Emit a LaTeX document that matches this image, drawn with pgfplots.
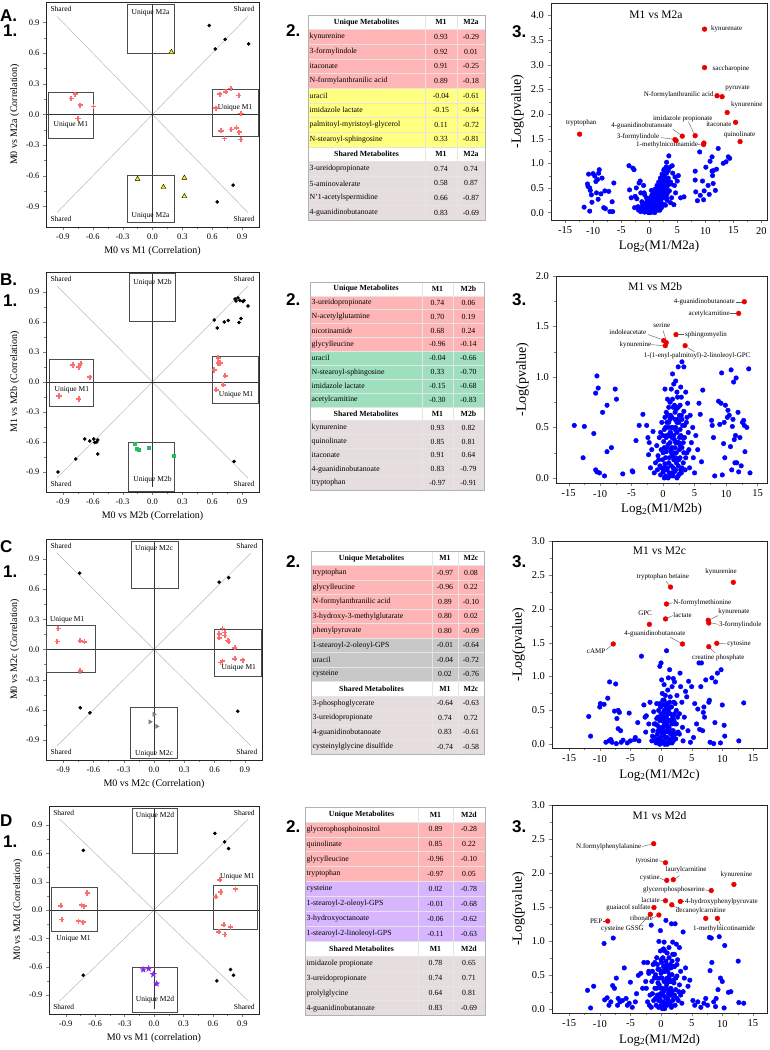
\documentclass[border=0pt]{standalone}
\usepackage{fontspec}
\setmainfont{Liberation Serif}
\newfontfamily\arialf{Liberation Sans}
\usepackage{pgfplots}
\pgfplotsset{compat=1.18}
\definecolor{pk}{RGB}{255,181,181}
\definecolor{yl}{RGB}{255,255,128}
\definecolor{gn}{RGB}{158,223,190}
\definecolor{gy}{RGB}{200,200,200}
\definecolor{pu}{RGB}{216,182,255}
\definecolor{sh}{RGB}{230,222,222}
\definecolor{pinkc}{RGB}{255,110,110}
\definecolor{greenc}{RGB}{40,185,100}
\definecolor{purplec}{RGB}{140,40,230}
\definecolor{bluec}{RGB}{0,0,255}
\definecolor{redc}{RGB}{235,0,0}
\pgfdeclareplotmark{fstar}{%
 \pgfpathmoveto{\pgfpointpolar{90}{\pgfplotmarksize}}%
 \pgfpathlineto{\pgfpointpolar{126}{0.42\pgfplotmarksize}}%
 \pgfpathlineto{\pgfpointpolar{162}{\pgfplotmarksize}}%
 \pgfpathlineto{\pgfpointpolar{198}{0.42\pgfplotmarksize}}%
 \pgfpathlineto{\pgfpointpolar{234}{\pgfplotmarksize}}%
 \pgfpathlineto{\pgfpointpolar{270}{0.42\pgfplotmarksize}}%
 \pgfpathlineto{\pgfpointpolar{306}{\pgfplotmarksize}}%
 \pgfpathlineto{\pgfpointpolar{342}{0.42\pgfplotmarksize}}%
 \pgfpathlineto{\pgfpointpolar{18}{\pgfplotmarksize}}%
 \pgfpathlineto{\pgfpointpolar{54}{0.42\pgfplotmarksize}}%
 \pgfpathclose\pgfusepathqfill}
\newcommand\trow[5]{%
 \fill[#2] (0,{-(#1)*\trh}) rectangle (\trw,{-(#1+1)*\trh});
 \node[anchor=west] at (1.5,{-(#1+0.5)*\trh}) {#3};
 \node at ({(\tca+\tcb)/2},{-(#1+0.5)*\trh}) {#4};
 \node at ({(\tcb+\trw)/2},{-(#1+0.5)*\trh}) {#5};}
\newcommand\thd[3]{%
 \node at ({\tca/2},{-(#1+0.5)*\trh}) {\bfseries #2};
 \node at ({(\tca+\tcb)/2},{-(#1+0.5)*\trh}) {\bfseries M1};
 \node at ({(\tcb+\trw)/2},{-(#1+0.5)*\trh}) {\bfseries #3};}
\newcommand\tgrid[2]{%
 \foreach \k in {1,...,#2} {\draw[white!80!gray,line width=0.5pt] (0,{-\k*\trh}) -- (\trw,{-\k*\trh});}
 \draw[white!80!gray,line width=0.5pt] (\tca,0) -- (\tca,{-#1*\trh});
 \draw[white!80!gray,line width=0.5pt] (\tcb,0) -- (\tcb,{-#1*\trh});
 \draw[gray!60,line width=0.8pt] (0,0) rectangle (\trw,{-#1*\trh});}
\tikzset{
 ann/.style={font=\fontsize{7}{8}\selectfont, inner sep=0.5pt},
 lead/.style={gray!70!black, line width=0.4pt},
 lab/.style={font=\fontsize{7.5}{8}\selectfont, inner sep=0pt},
 bx/.style={gray!60!black, line width=0.6pt},
}
\pgfplotsset{
 scat/.style={scale only axis, anchor=south west, xmin=-1.07,xmax=1.07,ymin=-1.1,ymax=1.1,
  xtick={-0.9,-0.6,-0.3,0,0.3,0.6,0.9}, ytick={-0.9,-0.6,-0.3,0,0.3,0.6,0.9},
  minor tick num=1, tick align=outside, tick pos=left, clip=false,
  axis line style={line width=0.6pt,black!85}, major tick length=3pt, minor tick length=1.6pt,
  ticklabel style={font=\fontsize{8.5}{9}\selectfont},
  xticklabel style={/pgf/number format/.cd,fixed,fixed zerofill,precision=1},
  yticklabel style={/pgf/number format/.cd,fixed,fixed zerofill,precision=1},
  /pgf/number format/assume math mode=true,
  label style={font=\fontsize{10}{11}\selectfont}},
 volc/.style={scale only axis, anchor=south west, tick align=outside, tick pos=left, clip=false,
  axis line style={line width=0.6pt,black!85}, major tick length=3.5pt, minor tick length=2pt,
  minor tick num=1,
  ticklabel style={font=\fontsize{10.5}{11}\selectfont},
  yticklabel style={/pgf/number format/.cd,fixed,fixed zerofill,precision=1},
  xticklabel style={/pgf/number format/.cd,fixed,precision=0},
  /pgf/number format/assume math mode=true,
  xlabel style={font=\fontsize{13}{14}\selectfont},
  ylabel style={font=\fontsize{14}{15}\selectfont},
  ylabel={-Log(pvalue)}, xtick={-15,-10,-5,0,5,10,15}},
 blk/.style={only marks, mark=*, mark size=1.6pt, black},
 pnk/.style={only marks, mark=+, mark size=2.6pt, pinkc, line width=1.7pt},
 bl/.style={only marks, mark=*, mark size=2.3pt, bluec},
 rd/.style={only marks, mark=*, mark size=2.4pt, redc},
}
\newcommand\scatdeco{%
 \draw[gray!55, line width=0.5pt] (axis cs:-0.96,0.96) -- (axis cs:0.96,-0.96);
 \draw[gray!55, line width=0.5pt] (axis cs:-0.96,-0.96) -- (axis cs:0.96,0.96);
 \draw[black!80, line width=0.6pt] (axis cs:-1.07,0) -- (axis cs:1.07,0);
 \draw[black!80, line width=0.6pt] (axis cs:0,-1.05) -- (axis cs:0,1.08);
 \node[lab] at (axis cs:-0.92,1.03) {Shared};
 \node[lab] at (axis cs:0.92,1.03) {Shared};
 \node[lab] at (axis cs:-0.92,-1.02) {Shared};
 \node[lab] at (axis cs:0.92,-1.02) {Shared};}
\begin{document}
\begin{tikzpicture}[x=1pt,y=1pt]
\useasboundingbox (0,0) rectangle (769,1050);
% panel labels
\begin{scope}[every node/.style={font=\arialf\bfseries\fontsize{17}{17}\selectfont, inner sep=0pt, anchor=west}]
\node at (0,1034) {A.}; \node at (3,1019) {1.};
\node at (0,770) {B.}; \node at (3,749) {1.};
\node at (0,503.5) {C}; \node at (3,478) {1.};
\node at (0,229) {D}; \node at (3,208) {1.};
\node at (286,1019) {2.}; \node at (286,750) {2.}; \node at (286,488) {2.}; \node at (286,223) {2.};
\node at (512,1018) {3.}; \node at (512,750) {3.}; \node at (512,488) {3.}; \node at (512,223) {3.};
\end{scope}

% ================= Scatter A
\begin{axis}[scat, at={(46pt,823pt)}, width=213pt, height=225pt,
  xlabel={M0 vs M1 (Correlation)}, ylabel={M0 vs M2a (Correlation)}]
\scatdeco
\draw[bx] (axis cs:-0.25,0.6) rectangle (axis cs:0.22,1.08);
\draw[bx] (axis cs:-0.25,-0.59) rectangle (axis cs:0.22,-1.05);
\draw[bx] (axis cs:-1.05,0.22) rectangle (axis cs:-0.59,-0.23);
\draw[bx] (axis cs:0.6,0.25) rectangle (axis cs:1.06,-0.21);
\node[lab] at (axis cs:-0.02,0.99) {Unique M2a};
\node[lab] at (axis cs:-0.02,-0.99) {Unique M2a};
\node[lab] at (axis cs:-0.82,-0.10) {Unique M1};
\node[lab] at (axis cs:0.83,0.07) {Unique M1};
\addplot[blk] coordinates {(0.57,0.87)(0.73,0.735)(0.63,0.64)(0.966,0.69)(0.81,-0.69)(0.65,-0.855)};
\addplot[only marks, mark=triangle*, mark size=2.8pt, mark options={fill=yellow, draw=black, line width=0.4pt}] coordinates {(0.19,0.61)(-0.15,-0.63)(0.11,-0.71)(0.32,-0.62)(0.32,-0.80)};
\addplot[pnk] coordinates {(-0.776,0.197)(-0.817,0.155)(-0.725,0.09)(-0.593,0.077)(-0.749,-0.039)(0.786,0.255)(0.675,0.197)(0.735,0.223)(0.868,0.187)(0.637,0.061)(0.89,0.01)(0.688,-0.16)(0.79,-0.148)(0.844,-0.129)(0.871,-0.174)(0.722,-0.235)(0.888,-0.245)};
\end{axis}

% ================= Scatter B
\begin{axis}[scat, at={(46pt,558pt)}, width=213pt, height=220pt,
  xlabel={M0 vs M2b (Correlation)}, ylabel={M1 vs M2b (Correlation)}]
\scatdeco
\draw[bx] (axis cs:-0.23,0.61) rectangle (axis cs:0.23,1.09);
\draw[bx] (axis cs:-0.24,-0.605) rectangle (axis cs:0.22,-1.09);
\draw[bx] (axis cs:-1.04,0.23) rectangle (axis cs:-0.59,-0.245);
\draw[bx] (axis cs:0.6,0.26) rectangle (axis cs:1.06,-0.21);
\node[lab] at (axis cs:0,0.99) {Unique M2b};
\node[lab] at (axis cs:0,-0.98) {Unique M2b};
\node[lab] at (axis cs:-0.81,-0.077) {Unique M1};
\node[lab] at (axis cs:0.84,-0.13) {Unique M1};
\addplot[blk] coordinates {(0.62,0.62)(0.65,0.54)(0.72,0.60)(0.76,0.615)(0.87,0.595)(0.89,0.635)(0.96,0.76)(0.83,0.83)(0.84,0.81)(0.86,0.84)(0.88,0.815)(0.91,0.805)(0.92,0.815)(-0.95,-0.90)(-0.77,-0.77)(-0.68,-0.57)(-0.63,-0.59)(-0.59,-0.57)(-0.58,-0.605)(-0.56,-0.60)(-0.55,-0.58)(-0.55,-0.72)(0.82,-0.795)};
\addplot[only marks, mark=square*, mark size=1.6pt, greenc] coordinates {(-0.18,-0.62)(-0.16,-0.67)(-0.14,-0.68)(-0.04,-0.66)(0.21,-0.735)};
\addplot[pnk] coordinates {(-0.80,0.17)(-0.74,0.15)(-0.72,0.185)(-0.63,0.047)(-0.94,-0.14)(-0.74,-0.17)(0.66,0.24)(0.66,0.19)(0.68,0.19)(0.62,0.12)(0.73,0.063)(0.71,-0.027)(0.64,-0.077)};
\end{axis}

% ================= Scatter C
\begin{axis}[scat, at={(46pt,290pt)}, width=216pt, height=221pt,
  xlabel={M0 vs M2c (Correlation)}, ylabel={M0 vs M2c (Correlation)}]
\scatdeco
\draw[bx] (axis cs:-0.22,0.61) rectangle (axis cs:0.24,1.08);
\draw[bx] (axis cs:-0.23,-0.58) rectangle (axis cs:0.23,-1.08);
\draw[bx] (axis cs:-1.07,0.24) rectangle (axis cs:-0.585,-0.225);
\draw[bx] (axis cs:0.595,0.20) rectangle (axis cs:1.06,-0.265);
\node[lab] at (axis cs:0,1.0) {Unique M2c};
\node[lab] at (axis cs:0,-1.04) {Unique M2c};
\node[lab] at (axis cs:-0.86,0.30) {Unique M1};
\node[lab] at (axis cs:0.84,-0.185) {Unique M1};
\addplot[blk] coordinates {(-0.736,0.76)(0.645,0.67)(0.74,0.715)(-0.73,-0.58)(-0.635,-0.63)(0.83,-0.615)};
\addplot[only marks, mark=triangle*, mark size=2.4pt, gray, mark options={rotate=-90}] coordinates {(0.0,-0.645)(-0.04,-0.72)(0.027,-0.765)};
\addplot[pnk] coordinates {(-0.95,0.21)(-0.96,0.08)(-0.73,0.086)(-0.69,0.076)(-0.73,-0.215)(0.68,0.21)(0.645,0.155)(0.645,0.116)(0.70,0.14)(0.70,0.17)(0.73,0.09)(0.74,0.08)(0.80,0.017)(0.80,-0.093)(0.88,-0.106)(0.66,-0.13)(0.68,-0.116)};
\end{axis}

% ================= Scatter D
\begin{axis}[scat, at={(49pt,36pt)}, width=210pt, height=208pt,
  xlabel={M0 vs M1 (correlation)}, ylabel={M0 vs M2d (Correlation)}]
\scatdeco
\draw[bx] (axis cs:-0.22,0.60) rectangle (axis cs:0.24,1.08);
\draw[bx] (axis cs:-0.22,-0.61) rectangle (axis cs:0.24,-1.08);
\draw[bx] (axis cs:-1.05,0.24) rectangle (axis cs:-0.58,-0.23);
\draw[bx] (axis cs:0.60,0.26) rectangle (axis cs:1.05,-0.20);
\node[lab] at (axis cs:0.01,1.0) {Unique M2d};
\node[lab] at (axis cs:0.01,-0.95) {Unique M2d};
\node[lab] at (axis cs:-0.82,-0.31) {Unique M1};
\node[lab] at (axis cs:0.85,0.35) {Unique M1};
\addplot[blk] coordinates {(0.62,0.81)(0.72,0.72)(0.76,0.65)(-0.72,0.63)(-0.72,-0.69)(0.78,-0.63)(0.81,-0.69)(0.64,-0.75)};
\addplot[only marks, mark=fstar, mark size=3.8pt, purplec] coordinates {(-0.11,-0.63)(-0.054,-0.62)(-0.007,-0.68)(0.027,-0.78)};
\addplot[pnk] coordinates {(0.67,0.32)(0.63,0.14)(0.68,0.19)(0.83,0.22)(0.71,-0.155)(0.78,-0.18)(0.72,-0.26)(0.66,-0.23)(-0.95,0.046)(-0.68,0.18)(-0.74,0.05)(-0.71,0.04)(-0.94,-0.10)(-0.77,-0.12)(-0.72,-0.13)};
\end{axis}

% ================= Tables
\begin{scope}[font=\fontsize{7.8}{9}\selectfont, every node/.style={inner sep=0pt}]
% Table A
\begin{scope}[shift={(308,1035)}]
\def\trh{14.64}\def\trw{177}\def\tca{117}\def\tcb{149}
\trow{1}{pk}{kynurenine}{0.93}{-0.29}
\trow{2}{pk}{3-formylindole}{0.92}{0.01}
\trow{3}{pk}{itaconate}{0.91}{-0.25}
\trow{4}{pk}{N-formylanthranilic acid}{0.89}{-0.18}
\trow{5}{yl}{uracil}{-0.04}{-0.61}
\trow{6}{yl}{imidazole lactate}{-0.15}{-0.64}
\trow{7}{yl}{palmitoyl-myristoyl-glycerol}{0.11}{-0.72}
\trow{8}{yl}{N-stearoyl-sphingosine}{0.33}{-0.81}
\trow{10}{sh}{3-ureidopropionate}{0.74}{0.74}
\trow{11}{sh}{5-aminovalerate}{0.58}{0.87}
\trow{12}{sh}{N'1-acetylspermidine}{0.66}{-0.87}
\trow{13}{sh}{4-guanidinobutanoate}{0.83}{-0.69}
\tgrid{14}{13}
\thd{0}{Unique Metabolites}{M2a}
\thd{9}{Shared Metabolites}{M2a}
\end{scope}
% Table B
\begin{scope}[shift={(310,768)}]
\def\trh{13.87}\def\trw{174}\def\tca{112}\def\tcb{143}
\trow{1}{pk}{3-ureidopropionate}{0.74}{0.06}
\trow{2}{pk}{N-acetylglutamine}{0.70}{0.19}
\trow{3}{pk}{nicotinamide}{0.68}{0.24}
\trow{4}{pk}{glycylleucine}{-0.96}{-0.14}
\trow{5}{gn}{uracil}{-0.04}{-0.66}
\trow{6}{gn}{N-stearoyl-sphingosine}{0.33}{-0.70}
\trow{7}{gn}{imidazole lactate}{-0.15}{-0.68}
\trow{8}{gn}{acetylcarnitine}{-0.30}{-0.83}
\trow{10}{sh}{kynurenine}{0.93}{0.82}
\trow{11}{sh}{quinolinate}{0.85}{0.81}
\trow{12}{sh}{itaconate}{0.91}{0.64}
\trow{13}{sh}{4-guanidinobutanoate}{0.83}{-0.79}
\trow{14}{sh}{tryptophan}{-0.97}{-0.91}
\tgrid{15}{14}
\thd{0}{Unique Metabolites}{M2b}
\thd{9}{Shared Metabolites}{M2b}
\end{scope}
% Table C
\begin{scope}[shift={(311,499)}]
\def\trh{14.5}\def\trw{173}\def\tca{121}\def\tcb{147}
\trow{1}{pk}{tryptophan}{-0.97}{0.08}
\trow{2}{pk}{glycylleucine}{-0.96}{0.22}
\trow{3}{pk}{N-formylanthranilic acid}{0.89}{-0.10}
\trow{4}{pk}{3-hydroxy-3-methylglutarate}{0.80}{0.02}
\trow{5}{pk}{phenylpyruvate}{0.80}{-0.09}
\trow{6}{gy}{1-stearoyl-2-oleoyl-GPS}{-0.01}{-0.64}
\trow{7}{gy}{uracil}{-0.04}{-0.72}
\trow{8}{gy}{cysteine}{0.02}{-0.76}
\trow{10}{sh}{3-phosphoglycerate}{-0.64}{-0.63}
\trow{11}{sh}{3-ureidopropionate}{0.74}{0.72}
\trow{12}{sh}{4-guanidinobutanoate}{0.83}{-0.61}
\trow{13}{sh}{cysteinylglycine disulfide}{-0.74}{-0.58}
\tgrid{14}{13}
\thd{0}{Unique Metabolites}{M2c}
\thd{9}{Shared Metabolites}{M2c}
\end{scope}
% Table D
\begin{scope}[shift={(305,243)}]
\def\trh{14.9}\def\trw{180}\def\tca{113}\def\tcb{148}
\trow{1}{pk}{glycerophosphoinositol}{0.89}{-0.28}
\trow{2}{pk}{quinolinate}{0.85}{0.22}
\trow{3}{pk}{glycylleucine}{-0.96}{-0.10}
\trow{4}{pk}{tryptophan}{-0.97}{0.05}
\trow{5}{pu}{cysteine}{0.02}{-0.78}
\trow{6}{pu}{1-stearoyl-2-oleoyl-GPS}{-0.01}{-0.68}
\trow{7}{pu}{3-hydroxyoctanoate}{-0.06}{-0.62}
\trow{8}{pu}{1-stearoyl-2-linoleoyl-GPS}{-0.11}{-0.63}
\trow{10}{sh}{imidazole propionate}{0.78}{0.65}
\trow{11}{sh}{3-ureidopropionate}{0.74}{0.71}
\trow{12}{sh}{prolylglycine}{0.64}{0.81}
\trow{13}{sh}{4-guanidinobutanoate}{0.83}{-0.69}
\tgrid{14}{13}
\thd{0}{Unique Metabolites}{M2d}
\thd{9}{Shared Metabolites}{M2d}
\end{scope}
\end{scope}

% ================= Volcano A
\begin{axis}[volc, at={(551pt,830pt)}, width=216pt, height=217pt,
  xmin=-17.5, xmax=21, ymin=-0.15, ymax=4.25, xtick={-15,-10,-5,0,5,10,15,20}, ytick={0,0.5,1,1.5,2,2.5,3,3.5,4},
  xlabel={Log\textsubscript{2}(M1/M2a)}]
\node[font=\fontsize{11.5}{12}\selectfont] at (rel axis cs:0.486,0.945) {M1 vs M2a};
\addplot[bl] coordinates {(-11.6,0.11)(-11.0,0.58)(-10.8,0.78)(-10.6,0.50)(-10.5,0.45)(-10.3,0.36)(-10.6,0.03)(-10.2,0.21)(-10.0,0.79)(-9.7,0.74)(-9.4,0.40)(-9.5,0.63)(-9.2,0.67)(-9.1,0.27)(-9.0,0.80)(-8.9,0.87)(-8.4,0.70)(-8.6,0.38)(-7.9,0.44)(-7.8,0.08)(-7.2,0.43)(-7.0,0.02)(-6.6,0.22)(-6.5,0.02)(-6.3,0.60)(-8.1,0.10)(-10.9,0.53)
(-3.6,0.95)(-3.5,0.46)(-3.2,0.30)(-2.9,0.90)(-2.7,0.87)(-2.5,0.33)(-2.3,0.50)(-2.2,0.28)(-2.0,0.12)(-1.8,0.60)(-1.6,0.64)(-1.5,0.40)(-1.3,0.22)(-1.0,0.55)(-1.2,0.15)(-0.8,0.36)(-2.6,0.10)(-1.9,0.05)
(-1.5,0.02)(-1.3,0.10)(-1.2,0.04)(-1.0,0.15)(-0.9,0.06)(-0.8,0.01)(-0.7,0.12)(-0.6,0.20)(-0.5,0.05)(-0.4,0.10)(-0.3,0.02)(-0.2,0.16)(-0.1,0.07)(0.0,0.00)(0.1,0.12)(0.2,0.05)(0.3,0.18)(0.4,0.02)(0.5,0.10)(0.6,0.24)(0.7,0.06)(0.8,0.15)(0.9,0.30)(1.0,0.08)(1.1,0.20)(1.2,0.36)(1.3,0.12)(1.4,0.26)(1.5,0.42)(1.6,0.18)(1.7,0.33)(1.8,0.50)(1.9,0.22)(2.0,0.40)(2.1,0.58)(2.2,0.28)(2.3,0.46)(2.4,0.66)(2.5,0.35)(2.6,0.52)(2.7,0.74)(2.8,0.30)(2.9,0.62)(3.0,0.48)(3.1,0.80)(3.2,0.38)(3.3,0.56)(3.4,0.70)(3.6,0.44)(3.8,0.62)(0.2,0.30)(0.5,0.36)(0.8,0.42)(1.1,0.48)(1.4,0.55)(1.7,0.62)(2.0,0.70)(2.3,0.78)(2.6,0.86)(1.0,0.00)(1.6,0.05)(2.2,0.10)(2.7,0.16)(-0.5,0.30)(-0.9,0.40)(0.4,0.45)(1.9,0.05)
(-1.1,0.08)(-0.7,0.03)(-0.4,0.18)(-0.2,0.04)(0.0,0.10)(0.2,0.14)(0.3,0.00)(0.5,0.20)(0.6,0.04)(0.8,0.08)(0.9,0.18)(1.1,0.04)(1.2,0.22)(1.3,0.30)(1.5,0.10)(1.6,0.30)(1.8,0.14)(1.9,0.38)(2.0,0.24)(2.1,0.46)(2.3,0.18)(2.4,0.52)(2.5,0.44)(2.6,0.64)(2.8,0.50)(2.9,0.40)(3.0,0.66)(3.1,0.30)(3.3,0.45)(3.5,0.62)(2.4,0.30)(1.7,0.45)(2.2,0.52)(1.4,0.38)(1.0,0.28)(0.7,0.30)(0.1,0.22)(-0.3,0.24)(-0.6,0.12)(2.0,0.56)(2.5,0.75)(2.8,0.60)(3.0,0.92)(3.4,0.85)(2.2,0.36)(1.2,0.14)(0.4,0.32)(-0.1,0.00)(0.6,0.15)(1.8,0.28)
(3.5,1.15)(3.7,0.92)(3.9,0.58)(4.0,0.30)(4.2,0.80)(4.5,0.55)(4.7,0.40)(5.0,0.64)(5.2,0.75)(5.6,0.30)(6.2,0.32)(2.2,0.70)(2.7,0.88)(3.1,1.02)(3.3,0.55)(3.8,0.20)(4.4,0.16)(2.9,0.15)(4.1,0.95)(4.6,0.72)(3.2,0.25)
(8.2,0.84)(8.2,0.66)(8.3,0.42)(8.6,0.24)(9.1,0.35)(9.5,0.64)(9.7,0.26)(9.0,1.23)(10.1,0.92)(10.5,0.55)(10.7,0.37)(11.2,1.13)(11.2,0.84)(11.4,0.85)(11.4,0.59)(12.3,1.30)(13.2,1.00)(13.7,1.03)(14.1,1.13)(14.35,1.10)(10.85,1.04)(11.3,0.75)(9.8,0.44)(12.0,0.88)(11.8,0.45)};
\addplot[rd] coordinates {(9.86,3.72)(9.86,2.94)(12.1,2.37)(13.0,2.35)(13.9,2.03)(15.4,1.83)(16.2,1.44)(-12.4,1.59)(5.9,1.55)(8.2,1.56)(4.6,1.48)(4.8,1.46)(9.7,1.38)(9.75,1.41)};
\node[ann,anchor=west] at (axis cs:10.9,3.72) {kynurenate};
\node[ann,anchor=west] at (axis cs:11.2,2.92) {saccharopine};
\node[ann] at (axis cs:15.75,2.52) {pyruvate};
\node[ann,anchor=east] at (axis cs:11.6,2.39) {N-formylanthranilic acid};
\node[ann] at (axis cs:17.4,2.19) {kynurenine};
\node[ann,anchor=east] at (axis cs:14.8,1.79) {itaconate};
\node[ann] at (axis cs:16.1,1.57) {quinolinate};
\node[ann] at (axis cs:6.0,1.91) {imidazole propionate};
\draw[lead] (axis cs:7.0,1.84) -- (axis cs:8.0,1.60);
\node[ann] at (axis cs:-1.3,1.75) {4-guanidinobutanoate};
\draw[lead] (axis cs:4.2,1.69) -- (axis cs:5.7,1.57);
\node[ann] at (axis cs:-2.0,1.54) {3-formylindole};
\draw[lead] (axis cs:2.1,1.52) -- (axis cs:4.3,1.49);
\node[ann] at (axis cs:3.2,1.37) {1-methylnicotinamide};
\draw[lead] (axis cs:8.6,1.38) -- (axis cs:9.4,1.39);
\node[ann] at (axis cs:-12.1,1.82) {tryptophan};
\end{axis}

% ================= Volcano B
\begin{axis}[volc, at={(556pt,567pt)}, width=211pt, height=207pt,
  xmin=-17, xmax=16.5, ymin=-0.05, ymax=2.0, ytick={0,0.5,1,1.5,2},
  xlabel={Log\textsubscript{2}(M1/M2b)}]
\node[font=\fontsize{11.5}{12}\selectfont] at (rel axis cs:0.47,0.95) {M1 vs M2b};
\addplot[bl] coordinates {(-14.1,0.52)(-12.5,0.51)(-12.7,0.20)(-11.0,0.44)(-10.7,0.84)(-10.5,1.01)(-10.3,0.89)(-10.7,0.08)(-10.5,0.06)(-10.1,0.05)(-9.3,0.02)(-9.6,0.65)(-8.9,0.26)(-8.2,0.30)(-7.6,0.88)(-7.4,0.78)(-8.9,0.72)(-6.4,0.04)(-4.9,0.07)(-4.8,0.06)(-4.3,0.37)(-3.8,0.52)(-3.2,0.63)(-2.6,0.52)(-2.4,0.40)(-2.2,0.35)(-2.0,0.10)(-1.8,0.28)(-2.3,0.23)(-1.6,0.46)
(-1.4,0.05)(-1.2,0.15)(-1.0,0.32)(-0.9,0.08)(-0.8,0.22)(-0.6,0.40)(-0.5,0.12)(-0.4,0.03)(-0.3,0.28)(-0.2,0.55)(-0.1,0.18)(0.0,0.06)(0.1,0.36)(0.2,0.48)(0.3,0.14)(0.3,0.88)(0.4,0.02)(0.5,0.26)(0.5,0.65)(0.6,0.42)(0.7,0.10)(0.7,0.78)(0.8,0.33)(0.9,0.55)(1.0,0.05)(1.0,0.20)(1.1,0.45)(1.1,0.75)(1.2,0.62)(1.3,0.12)(1.3,0.88)(1.4,0.30)(1.5,0.50)(1.5,1.03)(1.6,0.02)(1.6,0.70)(1.7,0.18)(1.7,0.93)(1.8,0.38)(1.9,0.58)(2.0,0.08)(2.0,0.96)(2.1,0.25)(2.1,0.68)(2.2,0.45)(2.3,0.80)(2.4,0.12)(2.4,1.10)(2.5,0.35)(2.5,0.55)(2.6,0.62)(2.7,0.20)(2.8,0.90)(2.8,0.42)(2.9,0.05)(2.9,0.80)(3.0,1.15)(3.0,0.30)(3.1,0.52)(3.2,0.15)(3.3,1.10)(3.3,0.66)(3.4,0.40)(3.5,0.08)(3.6,0.85)(3.7,0.55)(3.8,0.25)(3.9,0.74)(4.0,0.45)(4.2,0.10)(4.3,0.62)(4.5,0.35)(4.7,0.50)(5.0,0.05)(5.2,0.42)(5.5,0.28)(5.7,0.74)(5.9,0.63)(6.3,0.87)(6.1,0.16)(4.8,0.20)
(0.2,0.00)(0.6,0.08)(1.2,0.02)(1.8,0.06)(2.2,0.00)(2.6,0.04)(3.0,0.10)(0.8,0.50)(1.4,0.40)(2.0,0.35)(2.6,0.28)(1.0,0.62)(1.9,0.48)(2.3,0.58)(0.4,0.50)(1.6,0.25)(3.2,0.35)(-0.4,0.45)(-0.7,0.18)(3.6,0.20)(4.1,0.28)(0.0,0.42)(2.7,0.72)(1.2,0.28)
(0.1,0.10)(0.4,0.20)(0.6,0.30)(0.9,0.15)(1.1,0.35)(1.3,0.50)(1.5,0.22)(1.7,0.42)(1.9,0.30)(2.1,0.15)(2.3,0.35)(2.5,0.18)(2.7,0.48)(2.9,0.62)(3.1,0.40)(0.3,0.60)(0.6,0.55)(0.9,0.70)(1.2,0.45)(1.4,0.60)(1.8,0.72)(2.2,0.55)(2.4,0.70)(2.6,0.40)(3.4,0.52)(3.0,0.58)(0.0,0.25)(-0.3,0.10)(0.5,0.40)(1.0,0.42)(1.6,0.10)(2.0,0.20)(2.8,0.08)(3.3,0.25)(0.8,0.00)(1.4,0.05)(2.4,0.02)(1.9,0.65)(1.1,0.58)(0.2,0.30)(2.2,0.85)(1.5,0.78)(2.7,0.32)(3.8,0.60)(0.7,0.62)(1.3,0.25)(2.0,0.50)
(7.7,0.57)(7.8,0.52)(8.0,0.40)(8.2,0.02)(8.8,0.76)(9.0,0.53)(9.2,0.74)(9.3,1.04)(9.4,0.03)(9.6,0.34)(9.7,0.55)(9.8,0.20)(9.9,0.72)(10.2,0.60)(10.3,0.67)(10.5,0.62)(10.7,0.31)(10.8,1.07)(10.9,0.08)(11.0,0.51)(11.2,0.95)(11.3,0.38)(11.4,0.15)(11.5,0.42)(11.6,0.99)(11.7,0.15)(11.9,0.65)(12.0,0.06)(12.2,0.40)(12.4,0.12)(12.6,0.55)(12.8,0.57)(13.0,0.26)(13.3,0.50)(13.6,1.08)(13.8,0.05)(12.9,0.52)(11.1,0.58)};
\addplot[rd] coordinates {(12.9,1.745)(12.0,1.63)(2.05,1.42)(0.1,1.36)(0.5,1.34)(0.35,1.31)(3.5,1.31)};
\node[ann,anchor=east] at (axis cs:11.5,1.745) {4-guanidinobutanoate};
\draw[lead] (axis cs:11.5,1.745) -- (axis cs:12.5,1.745);
\node[ann,anchor=east] at (axis cs:10.7,1.63) {acetylcarnitine};
\draw[lead] (axis cs:10.7,1.63) -- (axis cs:11.6,1.63);
\node[ann,anchor=west] at (axis cs:3.4,1.42) {sphingomyelin};
\draw[lead] (axis cs:2.5,1.42) -- (axis cs:3.4,1.42);
\node[ann] at (axis cs:-0.2,1.51) {serine};
\draw[lead] (axis cs:0.0,1.46) -- (axis cs:0.45,1.37);
\node[ann] at (axis cs:-5.6,1.44) {indoleacetate};
\draw[lead] (axis cs:-2.4,1.42) -- (axis cs:-0.1,1.37);
\node[ann] at (axis cs:-4.4,1.32) {kynurenine};
\draw[lead] (axis cs:-1.9,1.32) -- (axis cs:0.1,1.31);
\node[ann] at (axis cs:5.4,1.21) {1-(1-enyl-palmitoyl)-2-linoleoyl-GPC};
\draw[lead] (axis cs:3.9,1.29) -- (axis cs:5.0,1.25);
\end{axis}

% ================= Volcano C
\begin{axis}[volc, at={(552pt,302pt)}, width=215pt, height=207pt,
  xmin=-17.8, xmax=17.3, ymin=-0.055, ymax=3.0, ytick={0,0.5,1,1.5,2,2.5,3},
  xlabel={Log\textsubscript{2}(M1/M2c)}]
\node[font=\fontsize{11.5}{12}\selectfont] at (rel axis cs:0.5,0.955) {M1 vs M2c};
\addplot[bl] coordinates {(-11.8,0.41)(-11.5,0.12)(-10.0,0.55)(-9.9,0.60)(-9.3,0.59)(-8.7,0.68)(-8.4,0.92)(-8.2,0.07)(-8.0,0.03)(-7.4,0.89)(-7.6,0.49)(-7.2,0.38)(-7.0,0.50)(-6.8,0.47)(-7.0,0.23)(-6.6,0.20)(-6.2,0.06)(-7.3,0.01)(-6.5,0.03)(-5.5,0.02)(-5.2,0.46)(-5.0,0.05)(-4.2,0.10)(-3.8,0.32)(-3.6,0.05)(-3.2,1.30)(-2.8,0.58)(-2.6,0.40)(-2.5,0.18)(-2.0,0.30)(-4.3,0.07)(-8.5,0.05)(-9.0,0.03)(-2.4,0.42)(-1.8,0.62)
(-1.5,0.05)(-1.3,0.20)(-1.2,0.48)(-1.0,0.10)(-0.9,0.30)(-0.8,0.02)(-0.7,0.60)(-0.6,0.15)(-0.5,0.40)(-0.4,0.08)(-0.3,0.25)(-0.2,1.15)(-0.1,0.55)(0.0,0.02)(0.0,1.20)(0.1,0.35)(0.1,0.95)(0.2,0.12)(0.3,0.65)(0.3,0.45)(0.4,0.05)(0.5,0.28)(0.5,0.88)(0.6,0.50)(0.7,0.18)(0.7,0.72)(0.8,0.02)(0.9,1.38)(0.9,0.40)(1.0,0.60)(1.0,0.10)(1.1,0.25)(1.2,0.98)(1.2,0.50)(1.3,0.05)(1.4,1.10)(1.4,0.35)(1.5,0.70)(1.6,0.15)(1.7,0.55)(1.8,0.85)(1.8,0.02)(1.9,0.40)(2.0,0.97)(2.0,0.20)(2.1,0.62)(2.2,0.92)(2.3,0.30)(2.4,0.08)(2.5,0.50)(2.6,0.72)(2.8,0.18)(3.0,0.45)(3.1,1.05)(3.2,0.85)(3.4,0.62)(3.5,0.25)(3.6,0.05)(3.8,0.40)(4.2,0.70)(4.4,0.20)(0.2,0.22)(0.6,0.32)(0.4,0.58)(0.8,0.48)(1.2,0.18)(1.6,0.35)(-0.2,0.00)(0.6,0.00)(1.0,0.30)(0.2,0.75)(-0.6,0.28)(1.4,0.62)(0.0,0.18)(2.2,0.45)(1.9,0.10)
(-1.4,0.12)(-1.1,0.30)(-0.9,0.05)(-0.7,0.38)(-0.5,0.20)(-0.4,0.50)(-0.3,0.02)(-0.2,0.35)(-0.1,0.10)(0.0,0.45)(0.1,0.05)(0.2,0.40)(0.3,0.25)(0.4,0.15)(0.5,0.50)(0.6,0.20)(0.7,0.40)(0.8,0.10)(0.9,0.55)(1.0,0.20)(1.1,0.45)(1.2,0.35)(1.3,0.25)(1.4,0.02)(1.5,0.45)(1.6,0.55)(1.7,0.20)(1.8,0.30)(2.0,0.05)(2.1,0.35)(2.3,0.15)(2.5,0.30)(2.7,0.40)(3.0,0.15)(0.4,0.35)(0.8,0.28)(1.2,0.08)(-0.5,0.02)(0.3,0.02)(1.0,0.00)(1.6,0.05)(0.5,0.65)(1.1,0.80)(-0.2,0.60)(0.7,0.58)(2.3,0.60)
(4.0,0.78)(4.5,0.93)(5.0,0.85)(5.5,0.60)(6.0,0.52)(6.2,1.20)(6.5,0.85)(6.6,1.20)(7.0,0.55)(6.8,0.20)(7.3,0.95)(7.8,0.62)(7.9,0.65)(8.0,0.03)(8.3,0.98)(8.9,0.92)(9.2,1.05)(9.8,1.10)(10.0,0.58)(10.3,0.28)(10.4,0.12)(8.8,0.32)(9.7,0.02)(12.7,0.05)(13.5,0.61)(5.8,0.30)(6.3,0.22)(7.1,0.40)(5.3,0.10)(4.8,0.03)(8.6,0.01)(6.9,0.47)};
\addplot[rd] coordinates {(11.8,2.39)(1.55,2.32)(0.89,2.07)(0.73,1.85)(-1.9,1.77)(7.7,1.83)(7.8,1.79)(3.5,1.48)(9.1,1.49)(7.8,1.44)(-7.8,1.48)};
\node[ann] at (axis cs:9.8,2.55) {kynurenine};
\node[ann] at (axis cs:0.3,2.47) {tryptophan betaine};
\draw[lead] (axis cs:0.8,2.41) -- (axis cs:1.4,2.34);
\node[ann,anchor=west] at (axis cs:1.9,2.09) {N-formylmethionine};
\draw[lead] (axis cs:1.2,2.07) -- (axis cs:1.9,2.09);
\node[ann,anchor=west] at (axis cs:1.9,1.90) {lactate};
\draw[lead] (axis cs:1.0,1.86) -- (axis cs:1.9,1.90);
\node[ann] at (axis cs:-2.6,1.93) {GPC};
\node[ann] at (axis cs:11.9,1.95) {kynurenate};
\draw[lead] (axis cs:8.0,1.84) -- (axis cs:9.3,1.90);
\node[ann,anchor=west] at (axis cs:9.35,1.77) {3-formylindole};
\draw[lead] (axis cs:8.2,1.79) -- (axis cs:9.35,1.77);
\node[ann] at (axis cs:-1.0,1.63) {4-guanidinobutanoate};
\draw[lead] (axis cs:1.5,1.58) -- (axis cs:3.3,1.49);
\node[ann,anchor=west] at (axis cs:10.7,1.48) {cytosine};
\draw[lead] (axis cs:9.4,1.49) -- (axis cs:10.7,1.48);
\node[ann] at (axis cs:9.35,1.28) {creatine phosphate};
\draw[lead] (axis cs:8.0,1.42) -- (axis cs:8.8,1.35);
\node[ann,anchor=east] at (axis cs:-9.0,1.38) {cAMP};
\draw[lead] (axis cs:-9.0,1.39) -- (axis cs:-8.1,1.46);
\end{axis}

% ================= Volcano D
\begin{axis}[volc, at={(552pt,37pt)}, width=215pt, height=208pt,
  xmin=-17.8, xmax=17.3, ymin=-0.064, ymax=3.0, ytick={0,0.5,1,1.5,2,2.5,3},
  xlabel={Log\textsubscript{2}(M1/M2d)}]
\node[font=\fontsize{11.5}{12}\selectfont] at (rel axis cs:0.5,0.95) {M1 vs M2d};
\addplot[bl] coordinates {(-12.0,0.27)(-11.5,0.01)(-11.0,0.33)(-9.3,0.96)(-9.2,0.13)(-8.8,0.16)(-8.5,0.05)(-8.2,0.10)(-7.8,1.04)(-7.9,0.34)(-7.6,0.30)(-7.3,0.45)(-7.1,0.05)(-7.0,0.15)(-6.7,0.10)(-6.3,0.12)(-6.0,0.60)(-5.7,0.15)(-5.5,0.05)(-5.2,0.08)(-5.0,0.39)(-4.7,0.02)(-4.2,0.10)(-4.0,0.22)(-3.7,0.49)(-3.3,0.52)(-3.0,0.30)(-2.8,0.68)(-2.5,0.40)(-2.2,0.68)(-2.0,0.55)
(-2.4,0.30)(-2.2,0.10)(-2.0,0.52)(-1.8,0.20)(-1.6,0.02)(-1.5,0.40)(-1.3,0.65)(-1.2,0.12)(-1.0,0.30)(-0.9,0.50)(-0.8,0.05)(-0.7,0.75)(-0.6,0.20)(-0.5,0.38)(-0.4,0.02)(-0.3,0.58)(-0.2,0.15)(-0.1,0.85)(0.0,0.30)(0.0,0.05)(0.1,0.68)(0.2,0.45)(0.3,0.10)(0.4,0.88)(0.4,0.25)(0.5,0.55)(0.6,0.00)(0.7,0.40)(0.8,0.70)(0.8,0.15)(0.9,0.35)(1.0,0.82)(1.0,0.05)(1.1,0.55)(1.2,0.22)(1.3,0.90)(1.3,0.45)(1.4,0.10)(1.5,0.65)(1.6,0.30)(1.7,0.02)(1.8,0.50)(1.9,0.80)(2.0,0.18)(2.1,0.38)(2.2,0.62)(2.3,0.05)(2.4,0.28)(2.6,0.48)(2.7,0.72)(2.8,0.12)(3.0,0.35)(3.2,0.55)(3.4,0.08)(3.6,0.25)(3.8,0.45)(3.0,0.90)(2.5,0.95)(-0.35,0.99)(1.9,0.98)(0.5,0.98)(0.2,0.00)(1.1,0.28)(0.6,0.62)(1.5,0.40)(0.3,0.75)(-0.5,0.58)(2.0,0.62)(-1.0,0.68)(1.0,0.45)(0.1,0.20)
(-1.9,0.05)(-1.4,0.22)(-1.1,0.45)(-0.9,0.15)(-0.7,0.30)(-0.6,0.45)(-0.4,0.12)(-0.3,0.35)(-0.1,0.22)(0.0,0.52)(0.1,0.10)(0.2,0.30)(0.3,0.55)(0.4,0.05)(0.5,0.40)(0.6,0.18)(0.7,0.55)(0.8,0.30)(0.9,0.08)(1.0,0.60)(1.1,0.15)(1.2,0.40)(1.3,0.28)(1.4,0.50)(1.5,0.20)(1.6,0.05)(1.7,0.40)(1.8,0.25)(1.9,0.12)(2.0,0.42)(2.2,0.20)(2.4,0.45)(2.6,0.15)(2.9,0.25)(-0.2,0.45)(0.4,0.62)(0.9,0.65)(1.6,0.60)(2.2,0.80)(-0.6,0.65)(0.0,0.72)(1.3,0.75)(2.6,0.65)(0.6,0.85)(1.8,0.70)(-1.4,0.55)(3.2,0.20)
(-1.6,1.23)(-0.1,1.15)(0.8,1.30)(1.7,1.25)(2.3,1.25)(3.6,1.13)
(4.0,0.60)(4.4,0.33)(4.7,0.42)(5.2,0.12)(5.5,0.05)(6.0,0.10)(6.5,0.02)(7.0,0.08)(7.3,0.15)(7.9,1.05)(8.2,1.04)(8.0,0.56)(8.3,0.68)(8.6,0.10)(8.9,0.03)(9.3,0.28)(9.5,1.06)(9.7,0.45)(10.0,0.40)(10.4,0.93)(11.0,0.24)(11.4,0.25)(12.6,0.70)(12.7,0.09)(13.5,0.08)(9.0,0.15)(10.3,0.01)(7.6,0.05)};
\addplot[rd] coordinates {(-1.2,2.43)(0.73,2.15)(2.0,1.90)(0.94,1.89)(11.9,1.83)(8.2,1.74)(0.73,1.59)(3.15,1.58)(1.75,1.53)(-1.15,1.49)(-0.35,1.38)(-1.75,1.39)(-8.7,1.29)(9.2,1.33)(7.3,1.33)};
\node[ann,anchor=east] at (axis cs:-3.1,2.39) {N.formylphenylalanine};
\draw[lead] (axis cs:-3.1,2.39) -- (axis cs:-1.6,2.42);
\node[ann,anchor=east] at (axis cs:-0.3,2.18) {tyrosine};
\draw[lead] (axis cs:-0.3,2.18) -- (axis cs:0.4,2.16);
\node[ann] at (axis cs:4.1,2.04) {laurylcarnitine};
\draw[lead] (axis cs:3.0,1.96) -- (axis cs:2.3,1.91);
\node[ann,anchor=east] at (axis cs:-0.1,1.92) {cystine};
\draw[lead] (axis cs:-0.1,1.92) -- (axis cs:0.6,1.89);
\node[ann] at (axis cs:12.3,1.97) {kynurenine};
\node[ann] at (axis cs:2.1,1.75) {glycerophosphoserine};
\draw[lead] (axis cs:7.1,1.75) -- (axis cs:7.9,1.74);
\node[ann,anchor=east] at (axis cs:-0.1,1.60) {lactate};
\draw[lead] (axis cs:-0.1,1.60) -- (axis cs:0.4,1.59);
\node[ann,anchor=west] at (axis cs:3.8,1.58) {4-hydroxyphenylpyruvate};
\draw[lead] (axis cs:3.4,1.58) -- (axis cs:3.8,1.58);
\node[ann] at (axis cs:6.5,1.44) {decanoylcarnitine};
\draw[lead] (axis cs:2.0,1.51) -- (axis cs:3.1,1.47);
\node[ann,anchor=east] at (axis cs:-1.6,1.48) {guaiacol sulfate};
\draw[lead] (axis cs:-1.6,1.48) -- (axis cs:-1.4,1.49);
\node[ann,anchor=east] at (axis cs:-1.2,1.34) {ribonate};
\draw[lead] (axis cs:-1.2,1.34) -- (axis cs:-0.6,1.37);
\node[ann] at (axis cs:-6.3,1.17) {cysteine GSSG};
\draw[lead] (axis cs:-3.6,1.21) -- (axis cs:-2.0,1.37);
\node[ann,anchor=east] at (axis cs:-9.5,1.29) {PEP};
\draw[lead] (axis cs:-9.5,1.29) -- (axis cs:-9.0,1.29);
\node[ann] at (axis cs:10.3,1.17) {1-methylnicotinamide};
\draw[lead] (axis cs:9.4,1.30) -- (axis cs:9.8,1.22);
\end{axis}
\end{tikzpicture}
\end{document}
